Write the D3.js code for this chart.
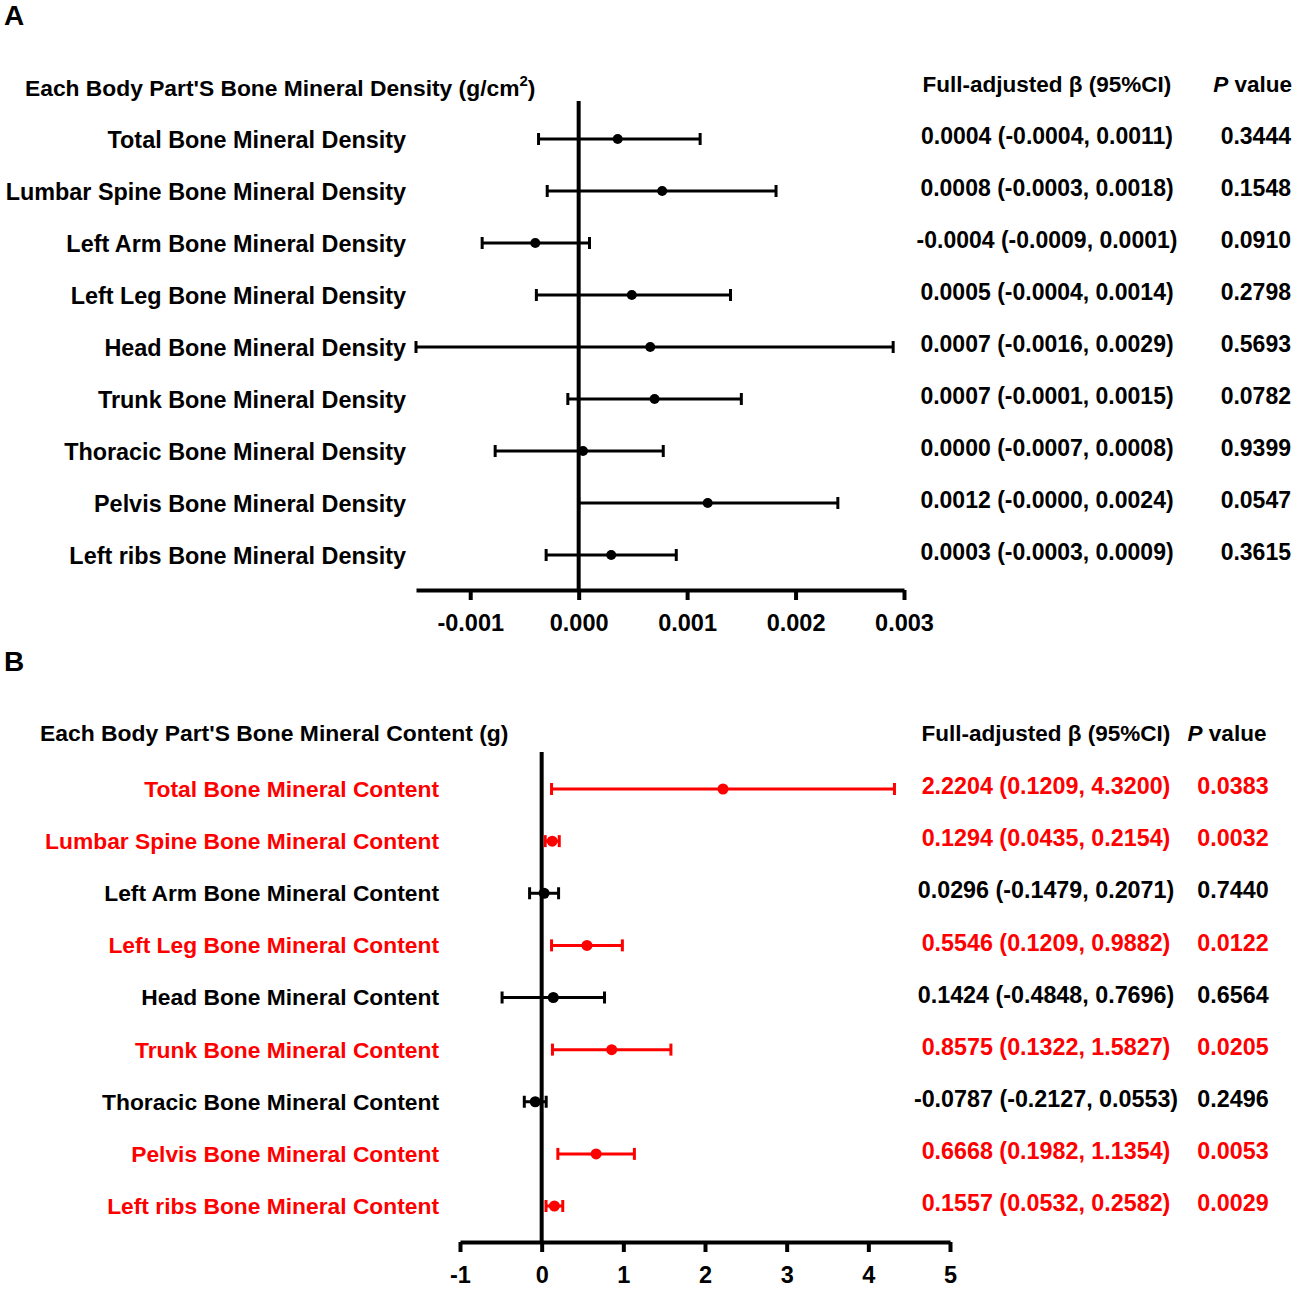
<!DOCTYPE html>
<html lang="en">
<head>
<meta charset="UTF-8">
<title>Forest plots</title>
<script src="https://cdn.jsdelivr.net/npm/d3@7/dist/d3.min.js"></script>
<style>
  body { margin: 0; background: #fff; }
  svg text { font-family: "Liberation Sans", Arial, sans-serif; font-weight: bold; }
</style>
</head>
<body>
<svg id="chart" width="1299" height="1289"></svg>
<script>
// ---- panel A data: bone mineral density (g/cm2)
let densityParts = ["Total", "Lumbar Spine", "Left Arm", "Left Leg", "Head", "Trunk", "Thoracic", "Pelvis", "Left ribs"];
let densityBeta = [0.00036, 0.00077, -0.0004, 0.00049, 0.00066, 0.0007, 0.00004, 0.00119, 0.0003];
let densityLow  = [-0.00037, -0.00029, -0.00089, -0.00039, -0.0016, -0.0001, -0.00077, 0.0, -0.0003];
let densityHigh = [0.00112, 0.00182, 0.0001, 0.0014, 0.0029, 0.0015, 0.00078, 0.00239, 0.0009];
let densityCI = ["0.0004 (-0.0004, 0.0011)", "0.0008 (-0.0003, 0.0018)", "-0.0004 (-0.0009, 0.0001)",
  "0.0005 (-0.0004, 0.0014)", "0.0007 (-0.0016, 0.0029)", "0.0007 (-0.0001, 0.0015)",
  "0.0000 (-0.0007, 0.0008)", "0.0012 (-0.0000, 0.0024)", "0.0003 (-0.0003, 0.0009)"];
let densityP = ["0.3444", "0.1548", "0.0910", "0.2798", "0.5693", "0.0782", "0.9399", "0.0547", "0.3615"];
let densityTicks = [-0.001, 0, 0.001, 0.002, 0.003];

// ---- panel B data: bone mineral content (g)
let contentParts = densityParts;
let contentBeta = [2.2204, 0.1294, 0.0296, 0.5546, 0.1424, 0.8575, -0.0787, 0.6668, 0.1557];
let contentLow  = [0.1209, 0.0435, -0.1479, 0.1209, -0.4848, 0.1322, -0.2127, 0.1982, 0.0532];
let contentHigh = [4.3200, 0.2154, 0.2071, 0.9882, 0.7696, 1.5827, 0.0553, 1.1354, 0.2582];
let contentP = ["0.0383", "0.0032", "0.7440", "0.0122", "0.6564", "0.0205", "0.2496", "0.0053", "0.0029"];
let contentTicks = [-1, 0, 1, 2, 3, 4, 5];
let redRows = [0, 1, 3, 5, 7, 8];   // significant rows drawn in red

// d3 formats negatives with a unicode minus, the figure uses a hyphen
function hyphen(f) {
  return function(v) { return f(v).replace(/\u2212/g, "-"); };
}
let fmt4 = hyphen(d3.format(".4f"));

let svg = d3.select("#chart");

function forest(opt) {
  let g = svg.append("g");
  let rows = opt.parts.map(function(p, i) {
    return {
      name: p + " Bone Mineral " + opt.kind,
      beta: opt.beta[i], low: opt.low[i], high: opt.high[i],
      ci: opt.ci[i], p: opt.p[i],
      color: opt.color(i)
    };
  });
  let names = rows.map(function(d) { return d.name; });

  let x = d3.scaleLinear().domain(opt.domain).range(opt.xRange);
  let y = d3.scalePoint().domain(names).range(opt.yRange);
  let yText = d3.scalePoint().domain(names).range(opt.textRange);

  // panel letter
  g.append("text").attr("x", 4).attr("y", opt.letterY)
    .attr("font-size", 28).text(opt.letter);

  // column headers
  let title = g.append("text").attr("x", opt.titleX).attr("y", opt.titleY)
    .attr("font-size", opt.titleSize).text(opt.title);
  if (opt.sup) {
    title.append("tspan").attr("font-size", 15).attr("dy", -10).text(opt.sup);
    title.append("tspan").attr("dy", 10).text(")");
  }
  g.append("text").attr("x", opt.ciX).attr("y", opt.headY)
    .attr("text-anchor", "middle").attr("font-size", 22.5)
    .text("Full-adjusted \u03b2 (95%CI)");
  let ph = g.append("text").attr("x", opt.pX).attr("y", opt.headY)
    .attr("text-anchor", opt.pAnchor).attr("font-size", 22.5);
  ph.append("tspan").attr("font-style", "italic").text("P");
  ph.append("tspan").text(" value");

  // zero reference line
  g.append("line")
    .attr("x1", x(0)).attr("x2", x(0))
    .attr("y1", opt.zeroTop).attr("y2", opt.axisY)
    .attr("stroke", "#000").attr("stroke-width", 4);

  // x axis
  let axis = g.append("g")
    .attr("transform", "translate(0," + opt.axisY + ")")
    .call(d3.axisBottom(x).tickValues(opt.ticks).tickFormat(opt.tickFormat)
      .tickSize(10).tickSizeOuter(0).tickPadding(14));
  axis.select(".domain").attr("stroke-width", 4).attr("stroke", "#000");
  axis.selectAll(".tick line").attr("stroke-width", 4).attr("stroke", "#000");
  axis.selectAll(".tick text").attr("font-size", 23.5).attr("font-family", null).attr("fill", "#000");

  // row labels
  g.selectAll(".rowlabel").data(rows).enter().append("text")
    .attr("class", "rowlabel")
    .attr("x", opt.labelX).attr("y", function(d) { return yText(d.name); })
    .attr("dy", "0.35em").attr("text-anchor", "end").attr("font-size", opt.labelSize)
    .attr("fill", function(d) { return d.color; })
    .text(function(d) { return d.name; });

  // error bars with caps, clipped to the axis range
  let lo = opt.domain[0];
  let bars = g.selectAll(".bar").data(rows).enter().append("g").attr("class", "bar")
    .attr("stroke", function(d) { return d.color; })
    .attr("fill", function(d) { return d.color; });
  bars.append("line")
    .attr("x1", function(d) { return x(Math.max(lo, d.low)); })
    .attr("x2", function(d) { return x(d.high); })
    .attr("y1", function(d) { return y(d.name); })
    .attr("y2", function(d) { return y(d.name); })
    .attr("stroke-width", 3);
  bars.append("line")
    .attr("x1", function(d) { return x(Math.max(lo, d.low)); })
    .attr("x2", function(d) { return x(Math.max(lo, d.low)); })
    .attr("y1", function(d) { return y(d.name) - 6; })
    .attr("y2", function(d) { return y(d.name) + 6; })
    .attr("stroke-width", 3);
  bars.append("line")
    .attr("x1", function(d) { return x(d.high); })
    .attr("x2", function(d) { return x(d.high); })
    .attr("y1", function(d) { return y(d.name) - 6; })
    .attr("y2", function(d) { return y(d.name) + 6; })
    .attr("stroke-width", 3);
  bars.append("circle")
    .attr("cx", function(d) { return x(d.beta); })
    .attr("cy", function(d) { return y(d.name); })
    .attr("r", opt.dotR).attr("stroke", "none");

  // estimates and p values
  g.selectAll(".ci").data(rows).enter().append("text")
    .attr("x", opt.ciX).attr("y", function(d) { return yText(d.name) + opt.ciShift; })
    .attr("dy", "0.35em").attr("text-anchor", "middle").attr("font-size", opt.ciSize)
    .attr("fill", function(d) { return d.color; })
    .text(function(d) { return d.ci; });
  g.selectAll(".pv").data(rows).enter().append("text")
    .attr("x", opt.pValX).attr("y", function(d) { return yText(d.name) + opt.ciShift; })
    .attr("dy", "0.35em").attr("text-anchor", opt.pValAnchor).attr("font-size", opt.ciSize)
    .attr("fill", function(d) { return d.color; })
    .text(function(d) { return d.p; });
}

forest({
  letter: "A", letterY: 25,
  kind: "Density", parts: densityParts,
  beta: densityBeta, low: densityLow, high: densityHigh,
  ci: densityCI, p: densityP,
  color: function() { return "#000"; },
  title: "Each Body Part'S Bone Mineral Density (g/cm", sup: "2", titleX: 25, titleY: 96, titleSize: 22.8,
  headY: 92,
  domain: [-0.0015, 0.003], xRange: [416, 904], ticks: densityTicks, tickFormat: hyphen(d3.format(".3f")),
  yRange: [139, 555], textRange: [140, 556], zeroTop: 101, axisY: 590,
  labelX: 406, labelSize: 23.4, dotR: 5,
  ciX: 1047, ciShift: -4, ciSize: 23, pX: 1292, pAnchor: "end", pValX: 1291, pValAnchor: "end"
});

forest({
  letter: "B", letterY: 671,
  kind: "Content", parts: contentParts,
  beta: contentBeta, low: contentLow, high: contentHigh,
  ci: contentBeta.map(function(b, i) {
    return fmt4(b) + " (" + fmt4(contentLow[i]) + ", " + fmt4(contentHigh[i]) + ")";
  }),
  p: contentP,
  color: function(i) { return redRows.indexOf(i) >= 0 ? "#f00" : "#000"; },
  title: "Each Body Part'S Bone Mineral Content (g)", sup: null, titleX: 40, titleY: 741, titleSize: 22.9,
  headY: 741,
  domain: [-1, 5], xRange: [460, 950], ticks: contentTicks, tickFormat: hyphen(d3.format("d")),
  yRange: [789, 1206], textRange: [789, 1206], zeroTop: 752, axisY: 1242,
  labelX: 439, labelSize: 22.8, dotR: 5.5,
  ciX: 1046, ciShift: -3, ciSize: 23.3, pX: 1227, pAnchor: "middle", pValX: 1233, pValAnchor: "middle"
});
</script>
</body>
</html>
